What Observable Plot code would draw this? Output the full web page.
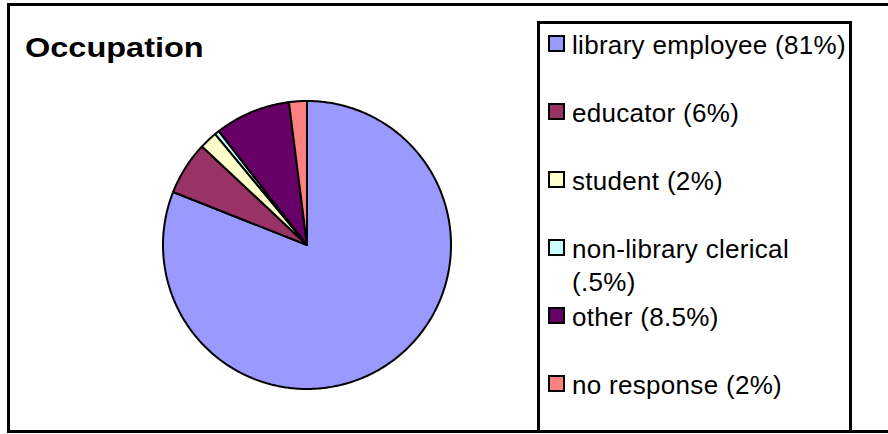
<!DOCTYPE html>
<html>
<head>
<meta charset="utf-8">
<script src="https://cdn.jsdelivr.net/npm/d3@7"></script>
<script src="https://cdn.jsdelivr.net/npm/@observablehq/plot@0.6"></script>
<style>
  html, body { margin: 0; padding: 0; background: #fff; }
  #chart { position: relative; width: 888px; height: 434px; overflow: hidden; font-family: "Liberation Sans", Arial, sans-serif; }
  #frame { position: absolute; left: 7px; top: 3px; width: 920px; height: 430px; border: 3px solid #000; box-sizing: border-box; }
  #title { position: absolute; left: 25px; top: 34px; font-weight: bold; font-size: 28px; line-height: 28px; transform: scaleX(1.16); transform-origin: 0 0; white-space: nowrap; }
  #pie { position: absolute; left: 157px; top: 95px; }
  #legend { position: absolute; left: 537px; top: 21px; width: 315px; height: 412px; border: 3px solid #000; box-sizing: border-box; padding-left: 8px; }
  .item { display: flex; align-items: flex-start; height: 68px; padding-top: 5px; box-sizing: border-box; }
  .sw { flex: none; width: 17px; height: 17px; margin-top: 6px; margin-right: 7px; border: 2px solid #000; box-sizing: border-box; }
  .lab { font-size: 26px; line-height: 33px; letter-spacing: 0.3px; width: 277px; color: #000; }
</style>
</head>
<body>
<div id="chart">
  <div id="frame"></div>
  <div id="title">Occupation</div>
  <div id="pie"></div>
  <div id="legend"></div>
</div>
<script>
const names = ["library employee", "educator", "student", "non-library clerical", "other", "no response"];
const shares = [81, 6, 2, 0.5, 8.5, 2];
const labels = ["library employee (81%)", "educator (6%)", "student (2%)", "non-library clerical (.5%)", "other (8.5%)", "no response (2%)"];
const colors = ["#9999FF", "#993366", "#FFFFCC", "#CCFFFF", "#660066", "#FF8080"];

// wedge outlines derived from the shares (clockwise from 12 o'clock)
const arcs = d3.pie().sort(null).value(d => d)(shares);
const pts = [];
arcs.forEach((a, i) => {
  const n = Math.max(2, Math.ceil((a.endAngle - a.startAngle) / 0.01));
  for (let k = 0; k <= n; k++) {
    const t = a.startAngle + (a.endAngle - a.startAngle) * k / n;
    pts.push({name: names[i], x: Math.sin(t), y: Math.cos(t)});
  }
});

const plot = Plot.plot({
  width: 300,
  height: 300,
  margin: 6,
  x: {domain: [-1, 1], axis: null},
  y: {domain: [-1, 1], axis: null},
  color: {domain: names, range: colors},
  marks: [
    Plot.area(pts, {
      x1: "x", y1: "y", x2: d => 0, y2: d => 0,
      z: "name", fill: "name",
      stroke: "#000", strokeWidth: 2, strokeLinejoin: "round"
    })
  ]
});
document.getElementById("pie").appendChild(plot);

const color = plot.scale("color");
const legend = d3.select("#legend");
names.forEach((n, i) => {
  const item = legend.append("div").attr("class", "item");
  item.append("div").attr("class", "sw").style("background", color.apply(n));
  item.append("div").attr("class", "lab").text(labels[i]);
});
</script>
</body>
</html>
